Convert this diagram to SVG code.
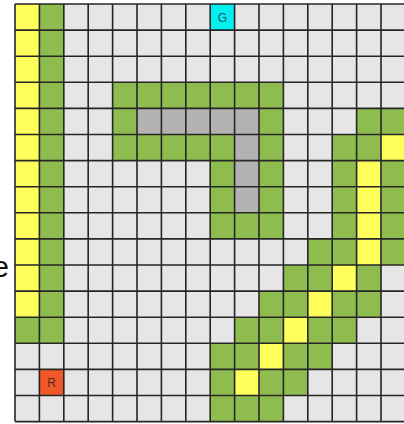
<svg xmlns="http://www.w3.org/2000/svg" width="404" height="424" viewBox="0 0 404 424">
<style>
.g{fill:#e6e6e6}
.gr{fill:#8fbc4f}
.y{fill:#ffff5c}
.d{fill:#b2b2b2}
.grid{fill:none;stroke:#262626;stroke-width:1.6}
.lbl{font-family:"Liberation Sans",Arial,sans-serif;font-size:12px;text-anchor:middle}
</style>
<rect width="404" height="424" fill="#ffffff"/>
<text x="9" y="277" font-family="Liberation Sans, Arial, sans-serif" font-size="30" fill="#111" text-anchor="end">e</text>
<g id="board">
<rect class="g" x="15" y="4" width="390.4" height="417.6"/>
<!-- left strip -->
<rect class="y" x="15" y="4" width="24.4" height="313.2"/>
<rect class="gr" x="39.4" y="4" width="24.4" height="339.3"/>
<rect class="gr" x="15" y="317.2" width="24.4" height="26.1"/>
<!-- seven shape -->
<rect class="gr" x="112.6" y="82.3" width="170.8" height="26.1"/>
<rect class="gr" x="112.6" y="108.4" width="24.4" height="52.2"/>
<rect class="gr" x="137" y="134.5" width="97.6" height="26.1"/>
<rect class="gr" x="259" y="108.4" width="24.4" height="130.5"/>
<rect class="gr" x="210.2" y="160.6" width="24.4" height="78.3"/>
<rect class="gr" x="234.6" y="212.8" width="24.4" height="26.1"/>
<rect class="d" x="137" y="108.4" width="122" height="26.1"/>
<rect class="d" x="234.6" y="134.5" width="24.4" height="78.3"/>
<!-- right diagonal -->
<rect class="gr" x="356.6" y="108.4" width="48.8" height="26.1"/>
<rect class="gr" x="332.2" y="134.5" width="48.8" height="26.1"/>
<rect class="y" x="381" y="134.5" width="24.4" height="26.1"/>
<rect class="gr" x="332.2" y="160.6" width="24.4" height="78.3"/>
<rect class="gr" x="381" y="160.6" width="24.4" height="104.4"/>
<rect class="y" x="356.6" y="160.6" width="24.4" height="104.4"/>
<rect class="gr" x="307.8" y="238.9" width="48.8" height="26.1"/>
<rect class="gr" x="283.4" y="265" width="48.8" height="26.1"/>
<rect class="y" x="332.2" y="265" width="24.4" height="26.1"/>
<rect class="gr" x="356.6" y="265" width="24.4" height="26.1"/>
<rect class="gr" x="259" y="291.1" width="48.8" height="26.1"/>
<rect class="y" x="307.8" y="291.1" width="24.4" height="26.1"/>
<rect class="gr" x="332.2" y="291.1" width="48.8" height="26.1"/>
<rect class="gr" x="234.6" y="317.2" width="48.8" height="26.1"/>
<rect class="y" x="283.4" y="317.2" width="24.4" height="26.1"/>
<rect class="gr" x="307.8" y="317.2" width="48.8" height="26.1"/>
<rect class="gr" x="210.2" y="343.3" width="48.8" height="26.1"/>
<rect class="y" x="259" y="343.3" width="24.4" height="26.1"/>
<rect class="gr" x="283.4" y="343.3" width="48.8" height="26.1"/>
<rect class="gr" x="210.2" y="369.4" width="24.4" height="26.1"/>
<rect class="y" x="234.6" y="369.4" width="24.4" height="26.1"/>
<rect class="gr" x="259" y="369.4" width="48.8" height="26.1"/>
<rect class="gr" x="210.2" y="395.5" width="73.2" height="26.1"/>
</g>
<g id="goal">
<rect x="210.2" y="4" width="24.4" height="26.1" fill="#00f0f0"/>
<text class="lbl" x="222.4" y="21.5" fill="#1d5a66">G</text>
</g>
<g id="robot">
<rect x="39.4" y="369.4" width="24.4" height="26.1" fill="#f0582a"/>
<text class="lbl" x="51.6" y="386.9" fill="#5a2a1a">R</text>
</g>
<path class="grid" d="M15 4V421.6M39.4 4V421.6M63.8 4V421.6M88.2 4V421.6M112.6 4V421.6M137 4V421.6M161.4 4V421.6M185.8 4V421.6M210.2 4V421.6M234.6 4V421.6M259 4V421.6M283.4 4V421.6M307.8 4V421.6M332.2 4V421.6M356.6 4V421.6M381 4V421.6M405.4 4V421.6M15 4H405.4M15 30.1H405.4M15 56.2H405.4M15 82.3H405.4M15 108.4H405.4M15 134.5H405.4M15 160.6H405.4M15 186.7H405.4M15 212.8H405.4M15 238.9H405.4M15 265H405.4M15 291.1H405.4M15 317.2H405.4M15 343.3H405.4M15 369.4H405.4M15 395.5H405.4M15 421.6H405.4"/>
</svg>
